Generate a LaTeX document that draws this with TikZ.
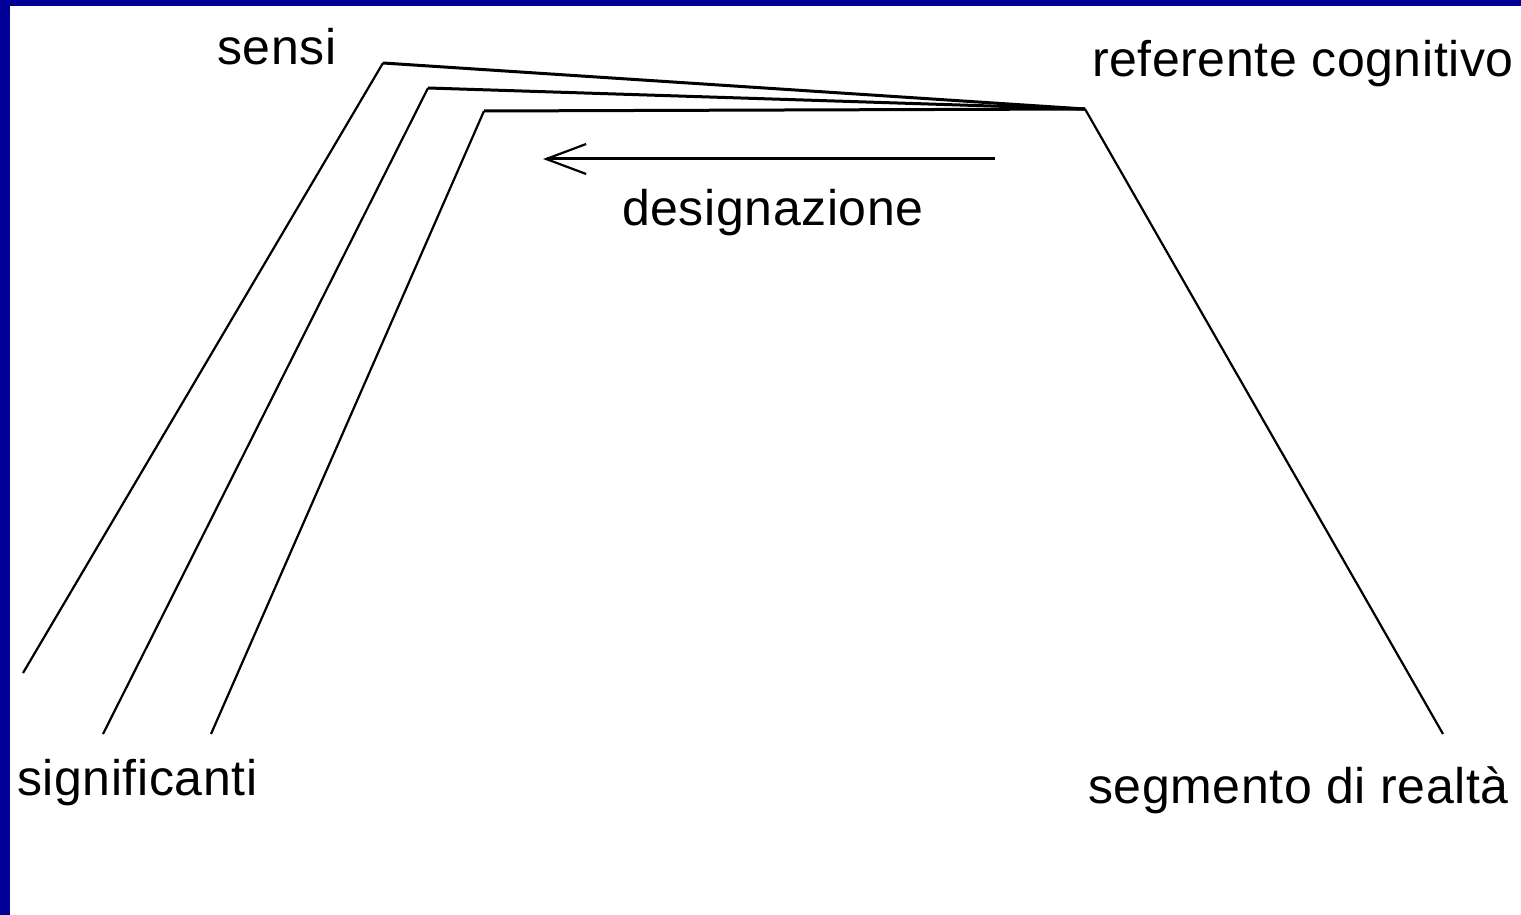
\documentclass[tikz,border=0pt]{standalone}
\usepackage{fontspec}
\setmainfont{Liberation Sans}[LetterSpace=1.2]
\usetikzlibrary{arrows.meta}
\definecolor{frameblue}{RGB}{0,0,153}
\begin{document}
\begin{tikzpicture}[x=1pt,y=-1pt,line join=miter,
  wire/.style={draw=black,line width=2.2pt},
  bar/.style={draw=black,line width=3pt},
  lbl/.style={anchor=base west,inner sep=0pt,font=\fontsize{50}{60}\selectfont}]
\useasboundingbox (0,0) rectangle (1521,915);
\fill[white] (0,0) rectangle (1521,915);
% frame edges
\fill[frameblue] (0,0) rectangle (1521,6);
\fill[frameblue] (0,0) rectangle (10,915);

% corner points of the three left paths and the right leg
\coordinate (ref) at (1085,109);
\coordinate (sensiTop) at (383,63);
\coordinate (sensiEnd) at (23,673);
\coordinate (sigTop) at (428,88);
\coordinate (sigEnd) at (103,734);
\coordinate (desTop) at (484,111);
\coordinate (desEnd) at (211,734);
\coordinate (realEnd) at (1443,734);
\coordinate (arrS) at (995,159);
\coordinate (arrE) at (543,159);

% paths
\draw[wire] (sensiEnd) -- (sensiTop);
\draw[bar] (sensiTop) -- (ref);
\draw[wire] (sigEnd) -- (sigTop);
\draw[bar] (sigTop) -- (ref);
\draw[wire] (desEnd) -- (desTop);
\draw[bar] (desTop) -- (ref);
\draw[wire] (ref) -- (realEnd);

% designation arrow
\draw[line width=3pt,-{Straight Barb[length=40pt,width=30pt,line width=2.2pt]}] (arrS) -- (arrE);

% labels
\node[lbl] (sensi) at (217,65) {sensi};
\node[lbl] (referente) at (1092,77) {referente cognitivo};
\node[lbl] (designazione) at (622,225) {designazione};
\node[lbl] (significanti) at (17,795) {significanti};
\node[lbl] (segmento) at (1088,803) {segmento di realtà};
\end{tikzpicture}
\end{document}
